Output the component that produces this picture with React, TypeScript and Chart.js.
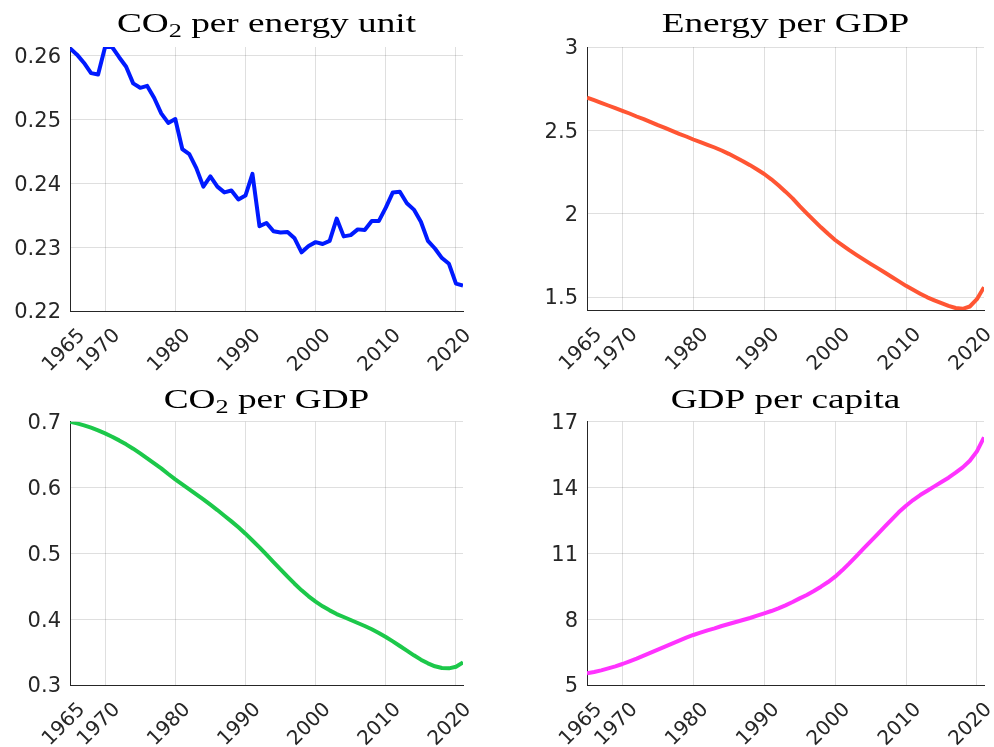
import React, { useEffect, useRef } from "react";
import { Chart, registerables } from "chart.js";

Chart.register(...registerables);

const YEARS = [
  1965, 1966, 1967, 1968, 1969, 1970, 1971, 1972, 1973, 1974,
  1975, 1976, 1977, 1978, 1979, 1980, 1981, 1982, 1983, 1984,
  1985, 1986, 1987, 1988, 1989, 1990, 1991, 1992, 1993, 1994,
  1995, 1996, 1997, 1998, 1999, 2000, 2001, 2002, 2003, 2004,
  2005, 2006, 2007, 2008, 2009, 2010, 2011, 2012, 2013, 2014,
  2015, 2016, 2017, 2018, 2019, 2020, 2021,
];

const CO2_PER_ENERGY = [
  0.2612, 0.2602, 0.2589, 0.2573, 0.2571, 0.2614, 0.2614, 0.2598, 0.2583, 0.2557,
  0.2550, 0.2553, 0.2534, 0.2510, 0.2495, 0.2501, 0.2454, 0.2446, 0.2424, 0.2395,
  0.2411, 0.2395, 0.2386, 0.2389, 0.2375, 0.2381, 0.2415, 0.2333, 0.2338, 0.2325,
  0.2323, 0.2324, 0.2314, 0.2292, 0.2302, 0.2308, 0.2305, 0.2310, 0.2345, 0.2317,
  0.2319, 0.2328, 0.2327, 0.2341, 0.2341, 0.2362, 0.2386, 0.2387, 0.2369, 0.2359,
  0.2340, 0.2310, 0.2298, 0.2283, 0.2274, 0.2243, 0.2240,
];

const ENERGY_PER_GDP = [
  2.697, 2.681, 2.665, 2.649, 2.633, 2.617, 2.601, 2.583, 2.567, 2.549,
  2.531, 2.515, 2.497, 2.479, 2.463, 2.445, 2.429, 2.413, 2.397, 2.379,
  2.359, 2.337, 2.315, 2.291, 2.265, 2.238, 2.206, 2.170, 2.132, 2.092,
  2.045, 2.002, 1.960, 1.918, 1.879, 1.842, 1.811, 1.781, 1.753, 1.726,
  1.699, 1.673, 1.647, 1.620, 1.594, 1.567, 1.543, 1.520, 1.498, 1.480,
  1.463, 1.447, 1.434, 1.429, 1.443, 1.487, 1.559,
];

const CO2_PER_GDP = [
  0.7000, 0.6975, 0.6944, 0.6909, 0.6868, 0.6823, 0.6772, 0.6716, 0.6656, 0.6590,
  0.6519, 0.6443, 0.6367, 0.6291, 0.6205, 0.6124, 0.6048, 0.5972, 0.5896, 0.5820,
  0.5739, 0.5658, 0.5572, 0.5486, 0.5395, 0.5299, 0.5196, 0.5091, 0.4980, 0.4868,
  0.4757, 0.4646, 0.4539, 0.4438, 0.4347, 0.4266, 0.4195, 0.4134, 0.4078, 0.4033,
  0.3987, 0.3942, 0.3896, 0.3846, 0.3790, 0.3729, 0.3663, 0.3592, 0.3522, 0.3451,
  0.3385, 0.3329, 0.3284, 0.3258, 0.3253, 0.3278, 0.3344,
];

const GDP_PER_CAPITA = [
  5.531, 5.592, 5.668, 5.759, 5.850, 5.957, 6.078, 6.200, 6.337, 6.473,
  6.610, 6.747, 6.884, 7.020, 7.157, 7.279, 7.385, 7.491, 7.582, 7.689,
  7.780, 7.871, 7.962, 8.053, 8.160, 8.266, 8.372, 8.494, 8.630, 8.782,
  8.949, 9.101, 9.283, 9.481, 9.693, 9.936, 10.225, 10.544, 10.878, 11.212,
  11.547, 11.881, 12.215, 12.549, 12.883, 13.172, 13.430, 13.658, 13.856, 14.053,
  14.251, 14.448, 14.676, 14.919, 15.223, 15.648, 16.286,
];

const X_TICKS = [1965, 1970, 1980, 1990, 2000, 2010, 2020];
const Y_TICKS_CO2_ENERGY = [0.22, 0.23, 0.24, 0.25, 0.26];
const Y_TICKS_ENERGY_GDP = [1.5, 2, 2.5, 3];
const Y_TICKS_CO2_GDP = [0.3, 0.4, 0.5, 0.6, 0.7];
const Y_TICKS_GDP_CAP = [5, 8, 11, 14, 17];

type TitlePart = { text: string; sub?: boolean };

const TITLE_CO2_ENERGY: TitlePart[] = [{ text: "CO" }, { text: "2", sub: true }, { text: " per energy unit" }];
const TITLE_ENERGY_GDP: TitlePart[] = [{ text: "Energy per GDP" }];
const TITLE_CO2_GDP: TitlePart[] = [{ text: "CO" }, { text: "2", sub: true }, { text: " per GDP" }];
const TITLE_GDP_CAP: TitlePart[] = [{ text: "GDP per capita" }];

const TICK_COLOR = "#262626";
const GRID_COLOR = "rgba(38,38,38,0.15)";

const titlePlugin = {
  id: "mtitle",
  afterDraw(chart: any, _args: any, opts: any) {
    const { ctx, chartArea } = chart;
    const parts: TitlePart[] = opts.parts || [];
    const mainFont = "27px 'Liberation Serif'";
    const subFont = "19px 'Liberation Serif'";
    let w = 0;
    for (const p of parts) {
      ctx.font = p.sub ? subFont : mainFont;
      w += ctx.measureText(p.text).width;
    }
    ctx.save();
    ctx.translate((chartArea.left + chartArea.right) / 2, opts.baseline);
    ctx.scale(opts.stretch, 1);
    ctx.fillStyle = "#000000";
    ctx.textAlign = "left";
    ctx.textBaseline = "alphabetic";
    let x = -w / 2;
    for (const p of parts) {
      ctx.font = p.sub ? subFont : mainFont;
      ctx.fillText(p.text, x, p.sub ? 5 : 0);
      x += ctx.measureText(p.text).width;
    }
    ctx.restore();
  },
};

type PanelProps = {
  left: number;
  top: number;
  width: number;
  height: number;
  values: number[];
  color: string;
  yMin: number;
  yMax: number;
  yTicks: number[];
  title: TitlePart[];
  titleBaseline: number;
  padTop: number;
  padRight: number;
  yAxisWidth: number;
  xAxisHeight: number;
};

function Panel(props: PanelProps) {
  const ref = useRef<HTMLCanvasElement>(null);
  useEffect(() => {
    const canvas = ref.current;
    if (!canvas) return;
    const chart = new Chart(canvas, {
      type: "line",
      data: {
        datasets: [
          {
            data: YEARS.map((x, i) => ({ x, y: props.values[i] })),
            borderColor: props.color,
            backgroundColor: props.color,
            borderWidth: 4,
            pointRadius: 0,
            fill: false,
            tension: 0,
            borderJoinStyle: "round",
          },
        ],
      },
      options: {
        animation: false,
        responsive: false,
        maintainAspectRatio: false,
        events: [],
        layout: { padding: { left: 0, right: props.padRight, top: props.padTop, bottom: 0 } },
        plugins: {
          legend: { display: false },
          tooltip: { enabled: false },
          title: { display: false },
          mtitle: { parts: props.title, baseline: props.titleBaseline, stretch: 1.38 },
        } as any,
        scales: {
          x: {
            type: "linear",
            min: 1965,
            max: 2021,
            afterBuildTicks: (s: any) => {
              s.ticks = X_TICKS.map((v) => ({ value: v }));
            },
            afterFit: (s: any) => {
              s.height = props.xAxisHeight;
              s.paddingLeft = 0;
              s.paddingRight = 0;
            },
            ticks: {
              autoSkip: false,
              minRotation: 45,
              maxRotation: 45,
              padding: 13,
              labelOffset: 12,
              color: TICK_COLOR,
              font: { family: "'DejaVu Sans'", size: 20 },
              callback: (v: any) => String(v),
            },
            grid: { color: GRID_COLOR, lineWidth: 1, drawTicks: false },
            border: { display: true, color: TICK_COLOR, width: 1 },
          },
          y: {
            type: "linear",
            min: props.yMin,
            max: props.yMax,
            afterBuildTicks: (s: any) => {
              s.ticks = props.yTicks.map((v) => ({ value: v }));
            },
            afterFit: (s: any) => {
              s.width = props.yAxisWidth;
              s.paddingTop = 0;
              s.paddingBottom = 0;
            },
            ticks: {
              padding: 9,
              labelOffset: 2,
              color: TICK_COLOR,
              font: { family: "'DejaVu Sans'", size: 21 },
              callback: (v: any) => String(v),
            },
            grid: { color: GRID_COLOR, lineWidth: 1, drawTicks: false },
            border: { display: true, color: TICK_COLOR, width: 1 },
          },
        },
      } as any,
      plugins: [titlePlugin as any],
    });
    return () => chart.destroy();
  }, []);
  return (
    <canvas
      ref={ref}
      width={props.width}
      height={props.height}
      style={{ position: "absolute", left: props.left, top: props.top, width: props.width, height: props.height }}
    />
  );
}

export default function App() {
  return (
    <div style={{ position: "absolute", left: 0, top: 0, width: 994, height: 747, background: "#ffffff", overflow: "hidden" }}>
      <Panel
        left={0} top={0} width={497} height={373}
        values={CO2_PER_ENERGY} color="#001aff"
        yMin={0.22} yMax={0.2614} yTicks={Y_TICKS_CO2_ENERGY}
        title={TITLE_CO2_ENERGY} titleBaseline={31.7}
        padTop={47} padRight={34} yAxisWidth={70} xAxisHeight={62}
      />
      <Panel
        left={497} top={0} width={497} height={373}
        values={ENERGY_PER_GDP} color="#ff5533"
        yMin={1.422} yMax={3} yTicks={Y_TICKS_ENERGY_GDP}
        title={TITLE_ENERGY_GDP} titleBaseline={31.7}
        padTop={47} padRight={10} yAxisWidth={90} xAxisHeight={63}
      />
      <Panel
        left={0} top={373} width={497} height={374}
        values={CO2_PER_GDP} color="#1cc84a"
        yMin={0.3} yMax={0.7} yTicks={Y_TICKS_CO2_GDP}
        title={TITLE_CO2_GDP} titleBaseline={35.3}
        padTop={48.7} padRight={34} yAxisWidth={70} xAxisHeight={62}
      />
      <Panel
        left={497} top={373} width={497} height={374}
        values={GDP_PER_CAPITA} color="#ff33ff"
        yMin={5} yMax={17} yTicks={Y_TICKS_GDP_CAP}
        title={TITLE_GDP_CAP} titleBaseline={35.3}
        padTop={48.7} padRight={10} yAxisWidth={90} xAxisHeight={62}
      />
    </div>
  );
}
